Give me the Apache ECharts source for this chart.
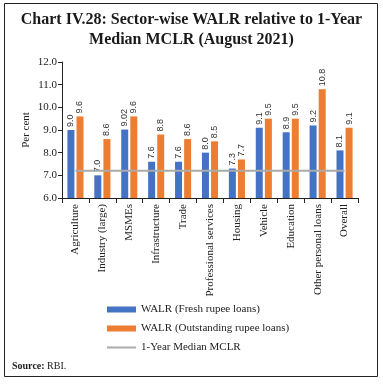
<!DOCTYPE html>
<html><head><meta charset="utf-8">
<script src="https://cdn.jsdelivr.net/npm/echarts@6/dist/echarts.min.js"></script>
<style>html,body{margin:0;padding:0;background:#fff}#c{width:383px;height:385px}</style>
</head><body><div id="c"></div>
<script>
const categories = ['Agriculture','Industry (large)','MSMEs','Infrastructure','Trade','Professional services','Housing','Vehicle','Education','Other personal loans','Overall'];
const walrFresh = [9.0, 7.0, 9.02, 7.6, 7.6, 8.0, 7.3, 9.1, 8.9, 9.2, 8.1];
const walrOutstanding = [9.6, 8.6, 9.6, 8.8, 8.6, 8.5, 7.7, 9.5, 9.5, 10.8, 9.1];
const medianMCLR = [7.2, 7.2, 7.2, 7.2, 7.2, 7.2, 7.2, 7.2, 7.2, 7.2, 7.2];
const yTicks = { min: 6, max: 12, interval: 1 };

const serif = 'Liberation Serif';
const fmt = v => { const x = v.value; return Math.abs(x*10 - Math.round(x*10)) < 1e-9 ? x.toFixed(1) : String(x); };
const barLabel = { show: true, position: 'top', rotate: 90, align: 'left', verticalAlign: 'middle', distance: 3, fontSize: 9, color: '#333', fontFamily: 'Liberation Sans', formatter: fmt };

const chart = echarts.init(document.getElementById('c'), null, { renderer: 'canvas' });
chart.setOption({
  animation: false,
  title: {
    text: 'Chart IV.28: Sector-wise WALR relative to 1-Year\nMedian MCLR (August 2021)',
    left: 'center', top: 5,
    textStyle: { fontFamily: serif, fontWeight: 'bold', fontSize: 16, lineHeight: 20, color: '#1a1a1a' }
  },
  grid: { left: 62, right: 25, top: 62, bottom: 187, containLabel: false },
  legend: {
    orient: 'vertical', left: 101, top: 299, itemWidth: 29, itemHeight: 6, itemGap: 8,
    textStyle: { fontFamily: serif, fontSize: 11, color: '#222' },
    data: [
      { name: 'WALR (Fresh rupee loans)', icon: 'rect' },
      { name: 'WALR (Outstanding rupee loans)', icon: 'rect' },
      { name: '1-Year Median MCLR', itemStyle: { opacity: 0 } }
    ]
  },
  xAxis: {
    type: 'category', data: categories,
    axisLine: { lineStyle: { color: '#222', width: 1 } },
    axisTick: { show: true, length: 5, lineStyle: { color: '#222' } },
    axisLabel: { rotate: 90, fontFamily: serif, fontSize: 11, color: '#222', margin: 6, interval: 0 }
  },
  yAxis: {
    type: 'value', min: yTicks.min, max: yTicks.max, interval: yTicks.interval,
    name: 'Per cent', nameLocation: 'middle', nameGap: 30, nameRotate: 90, nameMoveOverlap: false,
    nameTextStyle: { fontFamily: serif, fontSize: 11, color: '#222' },
    axisLine: { show: true, lineStyle: { color: '#222' } },
    axisTick: { show: true, length: 4, lineStyle: { color: '#222' } },
    splitLine: { show: false },
    axisLabel: { fontFamily: serif, fontSize: 11, color: '#222', margin: 5, formatter: v => v.toFixed(1) }
  },
  series: [
    { name: 'WALR (Fresh rupee loans)', type: 'bar', data: walrFresh, barWidth: 7, barGap: '30%', itemStyle: { color: '#4472C4' }, label: barLabel },
    { name: 'WALR (Outstanding rupee loans)', type: 'bar', data: walrOutstanding, barWidth: 7, barGap: '30%', itemStyle: { color: '#ED7D31' }, label: barLabel },
    { name: '1-Year Median MCLR', type: 'line', data: medianMCLR.map((v, i) => ({
        value: v,
        label: (i === 0 || i === medianMCLR.length - 1) ? { show: true, position: i === 0 ? 'left' : 'right', distance: 3, fontSize: 10, fontFamily: serif, color: '#333', formatter: p => p.value.toFixed(1) } : { show: false }
      })),
      symbol: 'none', lineStyle: { color: '#AAAAAA', width: 2 }, itemStyle: { color: '#AAAAAA' }, z: 3 }
  ],
  graphic: [
    { type: 'rect', shape: { x: 4.5, y: 3.5, width: 373, height: 373 }, style: { fill: 'none', stroke: '#222', lineWidth: 1 }, silent: true },
    { type: 'text', left: 12, top: 361, style: { text: '{b|Source:} RBI.', rich: { b: { fontWeight: 'bold', fontFamily: serif, fontSize: 10, fill: '#222' } }, fontFamily: serif, fontSize: 10, fill: '#222' } }
  ]
});
</script></body></html>
